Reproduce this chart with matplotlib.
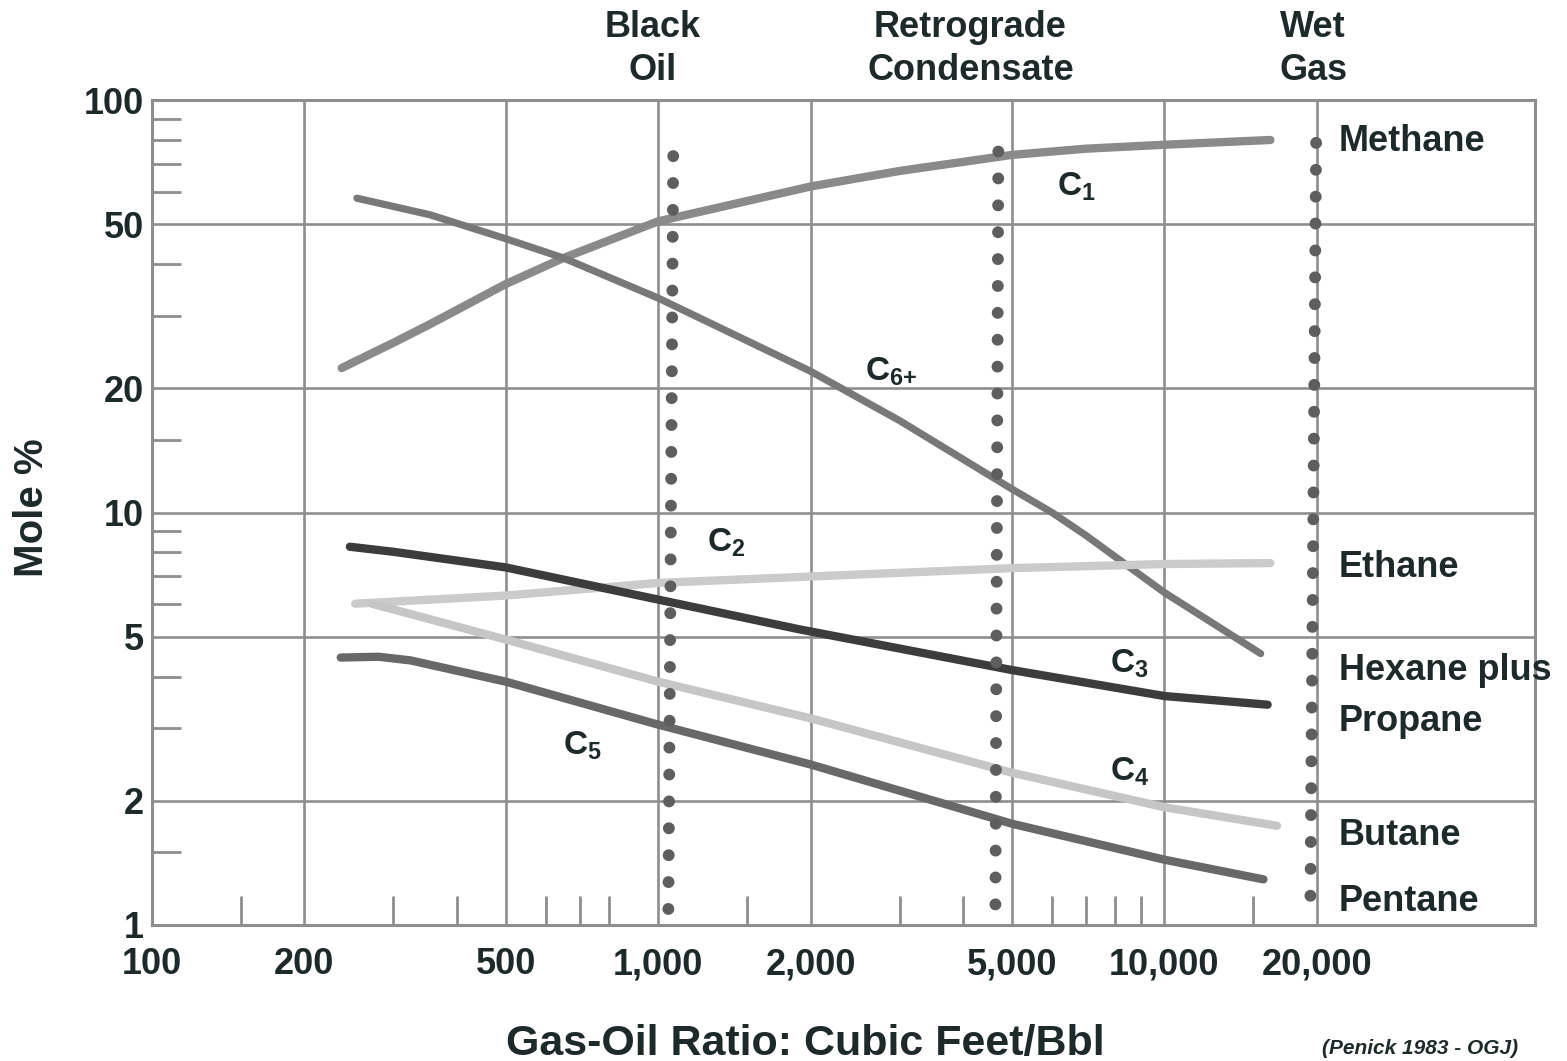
import matplotlib
matplotlib.use('Agg')
import matplotlib.pyplot as plt
from matplotlib.ticker import FixedLocator, NullFormatter

# gas-oil ratio (cu ft / bbl) vs mole %
c1_x = [237, 300, 354, 500, 650, 1000, 2000, 3000, 5000, 7000, 10000, 16200]
c1_y = [22.4, 25.8, 28.6, 35.8, 41.4, 50.8, 61.7, 67.3, 73.6, 76.2, 77.9, 80.0]

c6_x = [254, 354, 500, 650, 1000, 2000, 3000, 5000, 6000, 7000, 10000, 15500]
c6_y = [57.8, 52.7, 46.1, 41.4, 33.1, 22.0, 16.7, 11.4, 10.0, 8.8, 6.4, 4.55]

c2_x = [252, 500, 1000, 2200, 5000, 10000, 16200]
c2_y = [6.01, 6.29, 6.75, 7.03, 7.33, 7.50, 7.54]

c3_x = [246, 300, 500, 1000, 1900, 5000, 10000, 16000]
c3_y = [8.26, 8.03, 7.36, 6.15, 5.21, 4.15, 3.59, 3.42]

c4_x = [272, 500, 1000, 2000, 5000, 10000, 16700]
c4_y = [6.01, 4.92, 3.89, 3.17, 2.34, 1.93, 1.74]

c5_x = [236, 280, 324, 500, 1000, 2000, 5000, 10000, 15700]
c5_y = [4.45, 4.47, 4.38, 3.89, 3.06, 2.45, 1.76, 1.44, 1.29]

# fluid type boundaries (dotted), x at top / bottom and y extent
bound_x = [(1071, 1047), (4700, 4637), (19950, 19430)]
bound_y = [(73.1, 1.0), (75.0, 1.03), (78.7, 1.08)]
bound_names = ['Black\nOil', 'Retrograde\nCondensate', 'Wet\nGas']
bound_label_x = [975, 4140, 19700]

comp_names = ['Methane', 'Ethane', 'Hexane plus', 'Propane', 'Butane', 'Pentane']
comp_label_y = [75.2, 6.99, 3.93, 2.96, 1.56, 1.08]

c_labels = [r'$\mathbf{C_1}$', r'$\mathbf{C_{6{+}}}$', r'$\mathbf{C_2}$',
            r'$\mathbf{C_3}$', r'$\mathbf{C_4}$', r'$\mathbf{C_5}$']
c_label_x = [6150, 2565, 1250, 7820, 7820, 649]
c_label_y = [58.5, 20.9, 8.03, 4.10, 2.24, 2.59]

x_major = [100, 200, 500, 1000, 2000, 5000, 10000, 20000]
x_major_lbl = ['100', '200', '500', '1,000', '2,000', '5,000', '10,000', '20,000']
x_minor = [150, 300, 400, 600, 700, 800, 1500, 3000, 4000, 6000, 7000, 8000, 9000, 15000]
y_major = [1, 2, 5, 10, 20, 50, 100]
y_major_lbl = ['1', '2', '5', '10', '20', '50', '100']
y_minor = [1.5, 3, 4, 6, 7, 8, 9, 15, 30, 40, 60, 70, 80, 90]

plt.rcParams['font.family'] = ['Liberation Sans', 'DejaVu Sans']
plt.rcParams['font.weight'] = 'bold'
plt.rcParams['mathtext.fontset'] = 'custom'
plt.rcParams['mathtext.bf'] = 'Liberation Sans:bold'
plt.rcParams['mathtext.rm'] = 'Liberation Sans:bold'

txt = '#1e2a2a'
gridc = '#8e8e8e'

fig = plt.figure(figsize=(15.67, 10.61), dpi=100)
ax = fig.add_axes([152/1567, 1-925/1061, (1535-152)/1567, 825/1061])
ax.set_xscale('log')
ax.set_yscale('log')
ax.set_xlim(100, 54000)
ax.set_ylim(1, 100)

ax.set_xticks(x_major)
ax.set_xticklabels(x_major_lbl)
ax.set_yticks(y_major)
ax.set_yticklabels(y_major_lbl)
ax.xaxis.set_minor_locator(FixedLocator(x_minor))
ax.yaxis.set_minor_locator(FixedLocator(y_minor))
ax.xaxis.set_minor_formatter(NullFormatter())
ax.yaxis.set_minor_formatter(NullFormatter())
ax.tick_params(which='major', length=0, labelsize=26, labelcolor=txt)
ax.tick_params(axis='x', which='major', pad=16)
ax.tick_params(axis='y', which='major', pad=6)
ax.tick_params(which='minor', direction='in', length=21, width=2, color=gridc)
ax.grid(which='major', color=gridc, lw=1.9)
for s in ax.spines.values():
    s.set_color(gridc)
    s.set_linewidth(2.2)

lw = 6
ax.plot(c1_x, c1_y, color='#8a8a8a', lw=lw, solid_capstyle='round', zorder=3)
ax.plot(c6_x, c6_y, color='#787878', lw=5.2, solid_capstyle='round', zorder=3)
ax.plot(c2_x, c2_y, color='#cbcbcb', lw=lw, solid_capstyle='round', zorder=3)
ax.plot(c4_x, c4_y, color='#c6c6c6', lw=lw, solid_capstyle='round', zorder=3)
ax.plot(c3_x, c3_y, color='#3c3c3c', lw=lw, solid_capstyle='round', zorder=3)
ax.plot(c5_x, c5_y, color='#686868', lw=lw, solid_capstyle='round', zorder=3)

for bx, by in zip(bound_x, bound_y):
    ax.plot(bx, by, color='#5e5e5e', lw=8.6, linestyle=(0, (0.001, 2.25)),
            dash_capstyle='round', zorder=4, clip_on=False)

for name, bx in zip(bound_names, bound_label_x):
    ax.text(bx, 1.062, name, transform=ax.get_xaxis_transform(), ha='center',
            va='center', fontsize=26, color=txt, linespacing=1.28)

for name, yy in zip(comp_names, comp_label_y):
    ax.text(22100, yy, name, ha='left', va='baseline', fontsize=26, color=txt)

for lab, xx, yy in zip(c_labels, c_label_x, c_label_y):
    ax.text(xx, yy, lab, ha='left', va='baseline', fontsize=24, color=txt)

fig.text(805/1567, 6/1061, 'Gas-Oil Ratio: Cubic Feet/Bbl', ha='center',
         va='baseline', fontsize=31, color=txt)
fig.text(32/1567, 1-508/1061, 'Mole %', rotation=90, ha='center', va='center',
         fontsize=29, color=txt)
fig.text(1322/1567, 3/1061, '(Penick 1983 - OGJ)', ha='left', va='bottom',
         fontsize=15, style='italic', color=txt)

fig.savefig('out.png', dpi=100)
